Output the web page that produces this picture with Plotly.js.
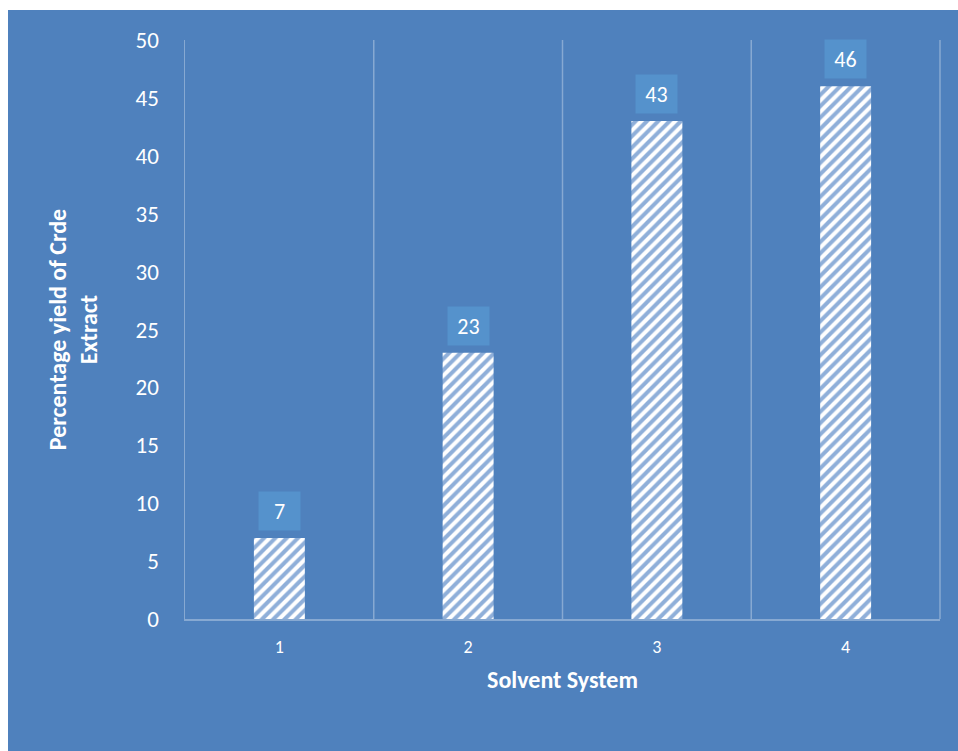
<!DOCTYPE html>
<html>
<head>
<meta charset="utf-8">
<script src="https://cdn.plot.ly/plotly-3.0.1.min.js"></script>
<style>
  html, body { margin: 0; padding: 0; background: #ffffff; }
  #chart { position: absolute; left: 8px; top: 10px; width: 950px; height: 741px; }
</style>
</head>
<body>
<div id="chart"></div>
<script>
const categories = ["1", "2", "3", "4"];
const yieldValues = [7, 23, 43, 46];
const yTickValues = [0, 5, 10, 15, 20, 25, 30, 35, 40, 45, 50];

const bg = "#4F81BD";
const font = "Calibri, Carlito, 'Open Sans', 'Liberation Sans', sans-serif";
const gridColor = "rgba(255,255,255,0.32)";

const trace = {
  type: "bar",
  x: categories,
  y: yieldValues,
  width: 0.27,
  marker: {
    color: "#ffffff",
    line: { width: 0 },
    pattern: { shape: "/", bgcolor: "#ffffff", fgcolor: "#8FAFD9", size: 8, solidity: 0.5, fillmode: "replace" }
  },
  hoverinfo: "skip"
};

const annotations = categories.map((c, i) => ({
  x: i, y: yieldValues[i], xref: "x", yref: "y",
  text: String(yieldValues[i]),
  showarrow: false,
  yanchor: "bottom",
  yshift: 7,
  bgcolor: "#5592CC",
  borderpad: 8,
  width: 25,
  height: 22,
  font: { family: font, size: 22, color: "#ffffff" }
}));

const layout = {
  width: 950, height: 741,
  paper_bgcolor: bg, plot_bgcolor: bg,
  margin: { l: 177, r: 18, t: 30, b: 132 },
  showlegend: false,
  bargap: 0.73,
  xaxis: {
    type: "category",
    range: [-0.5, categories.length - 0.5],
    showgrid: false,
    showline: true, linecolor: gridColor, linewidth: 1.5,
    ticks: "", ticklabelstandoff: 11,
    tickfont: { family: font, size: 18, color: "#ffffff" },
    title: { text: "<b>Solvent System</b>", font: { family: font, size: 24, color: "#ffffff" }, standoff: 14 },
    zeroline: false
  },
  yaxis: {
    range: [0, 50],
    tickvals: yTickValues,
    showgrid: false,
    zeroline: false,
    showline: true, linecolor: gridColor, linewidth: 1.5,
    ticks: "", ticklabelstandoff: 20,
    tickfont: { family: font, size: 23, color: "#ffffff" },
    title: { text: "<b>Percentage yield of Crde<br>Extract</b>", font: { family: font, size: 24, color: "#ffffff" }, standoff: 31 }
  },
  shapes: [0.5, 1.5, 2.5].map(v => ({
    type: "line", xref: "x", yref: "paper", x0: v, x1: v, y0: 0, y1: 1,
    line: { color: gridColor, width: 1.5 }, layer: "below"
  })).concat([{
    type: "line", xref: "paper", yref: "paper", x0: 1, x1: 1, y0: 0, y1: 1,
    line: { color: gridColor, width: 1.5 }, layer: "below"
  }]),
  annotations: annotations
};

Plotly.newPlot("chart", [trace], layout, { displayModeBar: false, staticPlot: true });
</script>
</body>
</html>
